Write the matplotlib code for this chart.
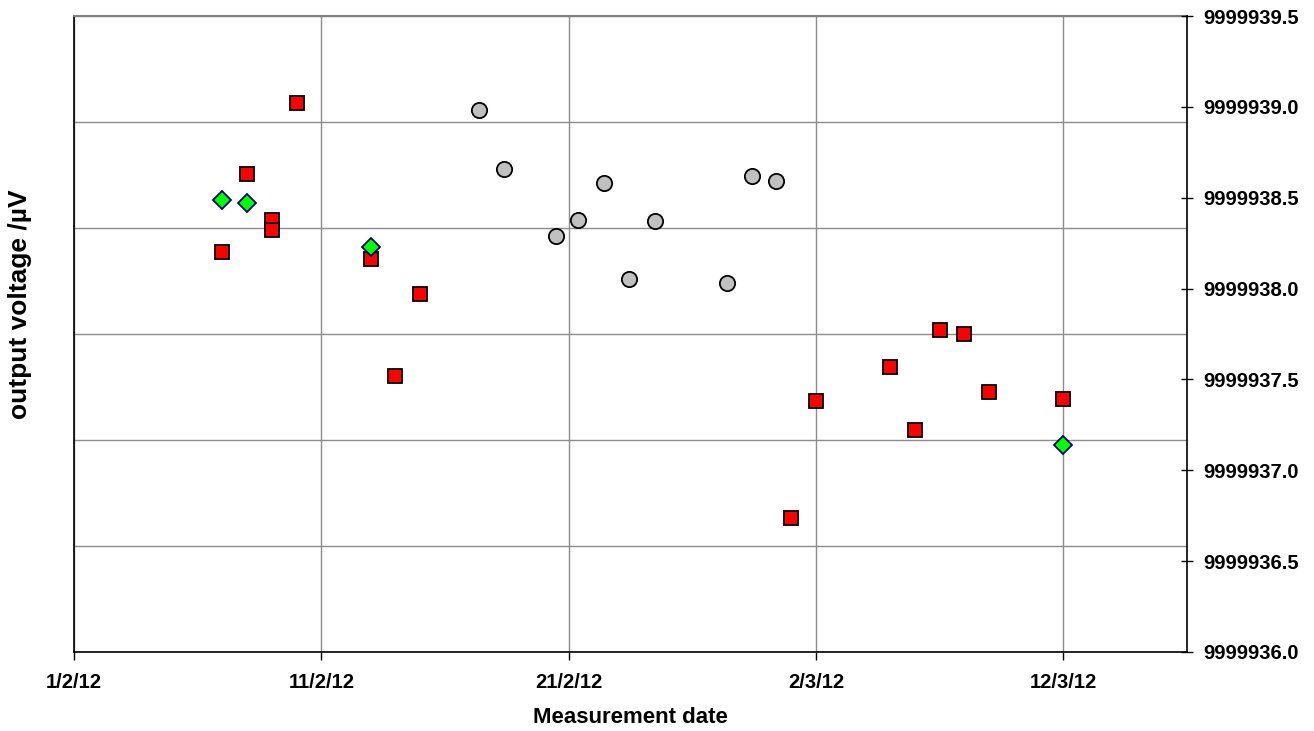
import matplotlib
matplotlib.use("Agg")
import matplotlib.pyplot as plt
import matplotlib.dates as mdates
from matplotlib.ticker import FixedLocator, FormatStrFormatter, FuncFormatter
import numpy as np

plt.rcParams['font.family'] = ['Liberation Sans', 'DejaVu Sans']
plt.rcParams['font.weight'] = 'bold'
plt.rcParams['font.size'] = 14

# red squares
sq_dates = ["2012-02-07", "2012-02-08", "2012-02-09", "2012-02-09", "2012-02-10",
            "2012-02-13", "2012-02-14", "2012-02-15", "2012-03-01", "2012-03-02",
            "2012-03-05", "2012-03-06", "2012-03-07", "2012-03-08", "2012-03-09",
            "2012-03-12"]
sq_volts = [9999938.20, 9999938.63, 9999938.38, 9999938.32, 9999939.02,
            9999938.16, 9999937.52, 9999937.97, 9999936.74, 9999937.38,
            9999937.57, 9999937.22, 9999937.77, 9999937.75, 9999937.43,
            9999937.39]

# green diamonds
dm_dates = ["2012-02-07", "2012-02-08", "2012-02-13", "2012-03-12"]
dm_volts = [9999938.49, 9999938.47, 9999938.23, 9999937.14]

# grey circles
ci_dates = ["2012-02-17T09:30", "2012-02-18T09:00", "2012-02-20T12:00",
            "2012-02-21T09:30", "2012-02-22T10:00", "2012-02-23T10:20",
            "2012-02-24T12:15", "2012-02-27T10:00", "2012-02-28T09:50",
            "2012-02-29T09:00"]
ci_volts = [9999938.98, 9999938.66, 9999938.29, 9999938.38, 9999938.58,
            9999938.05, 9999938.37, 9999938.03, 9999938.62, 9999938.59]

date_ticks = ["2012-02-01", "2012-02-11", "2012-02-21", "2012-03-02", "2012-03-12"]
x_range = ["2012-02-01", "2012-03-17"]
y_ticks = [9999936.0, 9999936.5, 9999937.0, 9999937.5, 9999938.0,
           9999938.5, 9999939.0, 9999939.5]


def to_num(d):
    return mdates.date2num(np.array(d, dtype="datetime64[m]"))


def dmy(v, pos):
    d = mdates.num2date(v)
    return "{0}/{1}/{2:02d}".format(d.day, d.month, d.year % 100)


fig = plt.figure(figsize=(13.14, 7.31), dpi=100)
ax = fig.add_axes([0.0563, 0.1081, 0.9033 - 0.0563, 0.9781 - 0.1081])

# voltage scale on the right
ax2 = ax.twinx()

# primary axis only carries the grid
ax.set_xlim(to_num(x_range))
ax.set_ylim(0, 6)
ax.yaxis.set_major_locator(FixedLocator(range(7)))
ax.tick_params(axis='y', left=False, right=False, labelleft=False, labelright=False)
ax.xaxis.set_major_locator(FixedLocator(to_num(date_ticks)))
ax.xaxis.set_major_formatter(FuncFormatter(dmy))
ax.tick_params(axis='x', direction='out', length=6, width=1, color='black',
               pad=9, labelsize=14.5)
ax.grid(True, color='#8c8c8c', linewidth=1)
ax.set_axisbelow(True)
for s in ['left', 'bottom']:
    ax.spines[s].set_color('black')
    ax.spines[s].set_linewidth(1.2)
ax.spines['top'].set_color('#808080')
ax.spines['top'].set_linewidth(1.5)
ax.spines['right'].set_visible(False)

ax2.set_ylim(y_ticks[0], y_ticks[-1])
ax2.yaxis.set_major_locator(FixedLocator(y_ticks))
ax2.yaxis.set_major_formatter(FormatStrFormatter('%.1f'))
ax2.tick_params(axis='y', direction='inout', length=9, width=1, color='black',
                pad=7, labelsize=14.5)
for s in ['left', 'bottom', 'top']:
    ax2.spines[s].set_visible(False)
ax2.spines['right'].set_color('black')
ax2.spines['right'].set_linewidth(1.2)

ax2.plot(to_num(sq_dates), sq_volts, linestyle='none', marker='s', markersize=10.5,
         markerfacecolor='#ff0000', markeredgecolor='black', markeredgewidth=1.3)
ax2.plot(to_num(ci_dates), ci_volts, linestyle='none', marker='o', markersize=11,
         markerfacecolor='#c0c0c0', markeredgecolor='black', markeredgewidth=1.3)
ax2.plot(to_num(dm_dates), dm_volts, linestyle='none', marker='D', markersize=9,
         markerfacecolor='#00ff00', markeredgecolor='#000080', markeredgewidth=1.3)
ax2.set_xlim(to_num(x_range))

fig.text(0.0156, 0.5834, 'output voltage /\u00b5V', rotation=90, ha='center',
         va='center', fontsize=19, fontweight='bold')
fig.text(0.48, 0.0178, 'Measurement date', ha='center', va='center',
         fontsize=16, fontweight='bold')

fig.savefig('out.png', dpi=100)
